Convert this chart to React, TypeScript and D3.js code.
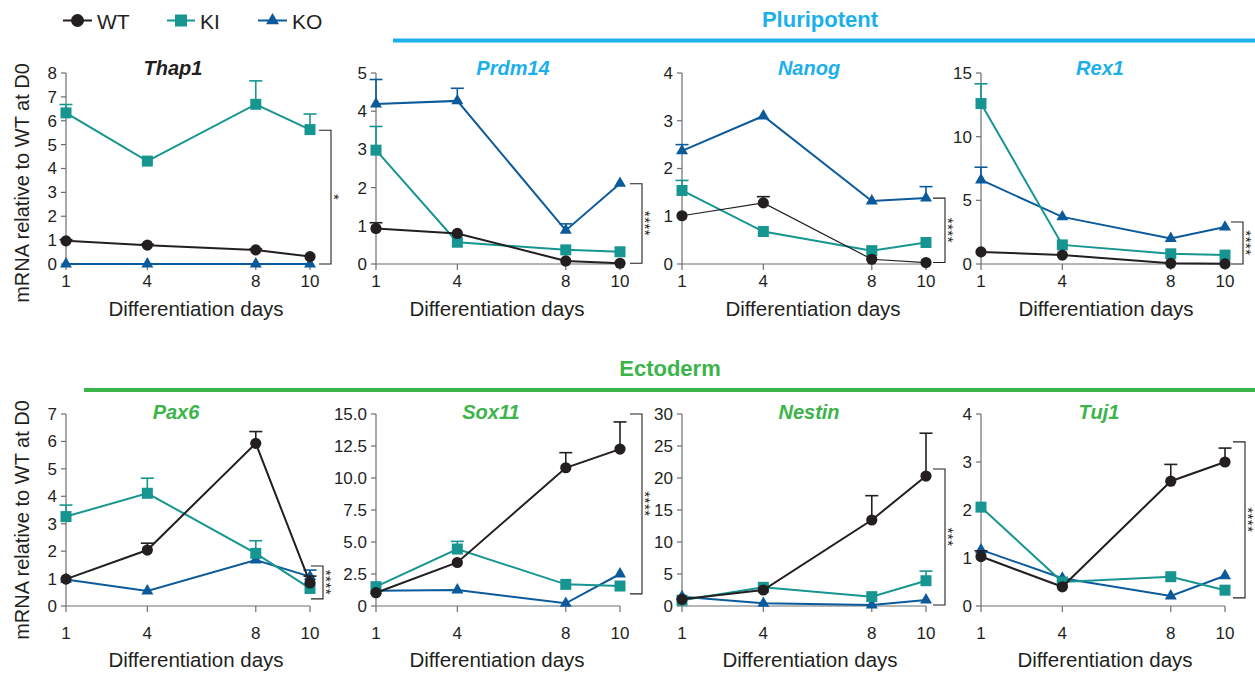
import React from "react";
import * as d3 from "d3";

// sampling days
const days = [1, 4, 8, 10];

// gene names (panel titles) and y-axis maxima
const genes = ["Thap1", "Prdm14", "Nanog", "Rex1", "Pax6", "Sox11", "Nestin", "Tuj1"];
const yMax = [8, 5, 4, 15, 7, 15, 30, 4];
const yTickStep = [1, 1, 1, 5, 1, 2.5, 5, 1];
const stars = ["*", "****", "****", "****", "****", "****", "***", "****"];

// means (relative mRNA) per gene and genotype
const thap1WT = [0.97, 0.79, 0.59, 0.31];
const thap1KI = [6.33, 4.31, 6.69, 5.63];
const thap1KO = [0, 0, 0, 0];
const prdm14WT = [0.93, 0.8, 0.08, 0.02];
const prdm14KI = [2.98, 0.57, 0.37, 0.32];
const prdm14KO = [4.19, 4.27, 0.88, 2.11];
const nanogWT = [1.01, 1.28, 0.1, 0.03];
const nanogKI = [1.54, 0.68, 0.28, 0.45];
const nanogKO = [2.37, 3.1, 1.32, 1.38];
const rex1WT = [0.95, 0.7, 0.05, 0.02];
const rex1KI = [12.6, 1.5, 0.8, 0.7];
const rex1KO = [6.6, 3.7, 2.0, 2.9];
const pax6WT = [0.98, 2.04, 5.93, 0.84];
const pax6KI = [3.26, 4.11, 1.92, 0.64];
const pax6KO = [0.97, 0.55, 1.68, 1.07];
const sox11WT = [1.04, 3.4, 10.8, 12.26];
const sox11KI = [1.51, 4.45, 1.69, 1.56];
const sox11KO = [1.2, 1.25, 0.21, 2.5];
const nestinWT = [1.04, 2.5, 13.44, 20.3];
const nestinKI = [0.9, 2.92, 1.46, 3.95];
const nestinKO = [1.46, 0.42, 0.16, 0.94];
const tuj1WT = [1.03, 0.4, 2.6, 3.0];
const tuj1KI = [2.06, 0.5, 0.61, 0.33];
const tuj1KO = [1.17, 0.58, 0.21, 0.63];

// upper error bars (SEM)
const thap1WTErr = [0.05, 0.04, 0.04, 0];
const thap1KIErr = [0.35, 0, 0.98, 0.65];
const thap1KOErr = [0, 0, 0, 0];
const prdm14WTErr = [0.15, 0, 0, 0];
const prdm14KIErr = [0.62, 0, 0, 0];
const prdm14KOErr = [0.64, 0.33, 0.17, 0];
const nanogWTErr = [0, 0.13, 0, 0];
const nanogKIErr = [0.21, 0, 0, 0];
const nanogKOErr = [0.13, 0, 0, 0.24];
const rex1WTErr = [0, 0, 0, 0];
const rex1KIErr = [1.55, 0, 0, 0];
const rex1KOErr = [1.0, 0, 0, 0];
const pax6WTErr = [0, 0.25, 0.43, 0.25];
const pax6KIErr = [0.42, 0.55, 0.46, 0];
const pax6KOErr = [0, 0, 0, 0.24];
const sox11WTErr = [0, 0, 1.18, 2.12];
const sox11KIErr = [0, 0.6, 0, 0];
const sox11KOErr = [0, 0, 0, 0];
const nestinWTErr = [0, 0, 3.8, 6.7];
const nestinKIErr = [0, 0, 0, 1.5];
const nestinKOErr = [0, 0, 0, 0];
const tuj1WTErr = [0.12, 0, 0.35, 0.29];
const tuj1KIErr = [0, 0, 0, 0];
const tuj1KOErr = [0, 0, 0, 0];

// significance brackets [low, high] in data units
const brackets = [
  [0, 5.6],
  [0.02, 2.1],
  [0.03, 1.38],
  [0, 3.3],
  [0.26, 1.46],
  [0.95, 15],
  [0.16, 21.4],
  [0.17, 3.42],
];

const means = [
  [thap1WT, thap1KI, thap1KO],
  [prdm14WT, prdm14KI, prdm14KO],
  [nanogWT, nanogKI, nanogKO],
  [rex1WT, rex1KI, rex1KO],
  [pax6WT, pax6KI, pax6KO],
  [sox11WT, sox11KI, sox11KO],
  [nestinWT, nestinKI, nestinKO],
  [tuj1WT, tuj1KI, tuj1KO],
];
const errs = [
  [thap1WTErr, thap1KIErr, thap1KOErr],
  [prdm14WTErr, prdm14KIErr, prdm14KOErr],
  [nanogWTErr, nanogKIErr, nanogKOErr],
  [rex1WTErr, rex1KIErr, rex1KOErr],
  [pax6WTErr, pax6KIErr, pax6KOErr],
  [sox11WTErr, sox11KIErr, sox11KOErr],
  [nestinWTErr, nestinKIErr, nestinKOErr],
  [tuj1WTErr, tuj1KIErr, tuj1KOErr],
];

const genotypes = ["WT", "KI", "KO"];
const colors = { WT: "#231f20", KI: "#179590", KO: "#0b5a9b" };
const BLUE = "#1bb0ea";
const GREEN = "#3bb44a";
const AXIS = "#6d6e71";
const TEXT = "#231f20";
const FONT = "'Liberation Sans', Arial, Helvetica, sans-serif";

// layout
const colX = [66, 376, 682, 981];
const rows = [
  { top: 73, bottom: 264, titleY: 75, tickY: 287, labY: 316, yLabC: 183 },
  { top: 414, bottom: 606, titleY: 419, tickY: 639, labY: 667, yLabC: 520 },
];
const plotW = 244;
const titleDx = [107, 137, 127, 119, 110, 115, 127, 118];
const xLabDx = [130, 121, 131, 125, 130, 121, 128, 124];
const brDx = [265, 266, 263, 262, 257, 266, 263, 264];
const titleColor = [TEXT, BLUE, BLUE, BLUE, GREEN, GREEN, GREEN, GREEN];

const Marker = ({ kind, x, y, big = false }) => {
  const c = colors[kind];
  if (kind === "WT") return <circle cx={x} cy={y} r={big ? 6.5 : 5.6} fill={c} />;
  if (kind === "KI") {
    const s = big ? 12 : 11;
    return <rect x={x - s / 2} y={y - s / 2} width={s} height={s} fill={c} />;
  }
  const s = big ? 13 : 12;
  const h = (s * Math.sqrt(3)) / 2;
  return (
    <path
      d={`M${x},${y - (2 * h) / 3}L${x + s / 2},${y + h / 3}L${x - s / 2},${y + h / 3}Z`}
      fill={c}
    />
  );
};

const Panel = ({ i }) => {
  const row = rows[Math.floor(i / 4)];
  const x0 = colX[i % 4];
  const x = d3.scaleLinear().domain([1, 10]).range([x0, x0 + plotW]);
  const y = d3.scaleLinear().domain([0, yMax[i]]).range([row.bottom, row.top]);
  const ticks = d3.range(0, yMax[i] + 1e-9, yTickStep[i]);
  const fmt = (v) => (v === 0 ? "0" : yTickStep[i] % 1 ? v.toFixed(1) : String(v));
  const line = d3
    .line()
    .x((d) => x(d[0]))
    .y((d) => y(d[1]));
  const order = [2, 1, 0]; // KO, KI, WT on top
  const bx = x0 + brDx[i];
  const [blo, bhi] = brackets[i];
  const bmid = (y(blo) + y(bhi)) / 2;

  return (
    <g fontFamily={FONT}>
      <text
        x={x0 + titleDx[i]}
        y={row.titleY}
        textAnchor="middle"
        fontSize={20}
        fontWeight="bold"
        fontStyle="italic"
        fill={titleColor[i]}
      >
        {genes[i]}
      </text>
      {/* axes */}
      <line x1={x0} x2={x0} y1={y(yMax[i])} y2={y(0)} stroke={AXIS} strokeWidth={1.2} />
      <line x1={x0} x2={x(10)} y1={y(0)} y2={y(0)} stroke={AXIS} strokeWidth={1.2} />
      {ticks.map((t) => (
        <g key={t}>
          <line x1={x0 - 5} x2={x0} y1={y(t)} y2={y(t)} stroke={AXIS} strokeWidth={1.2} />
          <text
            x={x0 - 9}
            y={y(t)}
            dy="0.35em"
            textAnchor="end"
            fontSize={17}
            fill={TEXT}
          >
            {fmt(t)}
          </text>
        </g>
      ))}
      {days.map((d) => (
        <g key={d}>
          <line x1={x(d)} x2={x(d)} y1={y(0)} y2={y(0) + 6} stroke={AXIS} strokeWidth={1.2} />
          <text x={x(d)} y={row.tickY} textAnchor="middle" fontSize={17} fill={TEXT}>
            {d}
          </text>
        </g>
      ))}
      <text x={x0 + xLabDx[i]} y={row.labY} textAnchor="middle" fontSize={20.5} fill={TEXT}>
        Differentiation days
      </text>
      {/* series */}
      {order.map((k) => {
        const g = genotypes[k];
        const vals = means[i][k];
        const e = errs[i][k];
        const c = colors[g];
        const thin = i === 2 && g === "WT";
        return (
          <g key={g}>
            <path
              d={line(days.map((d, j) => [d, vals[j]]))}
              fill="none"
              stroke={c}
              strokeWidth={thin ? 1.2 : 2}
            />
            {days.map((d, j) =>
              e[j] > 0 ? (
                <g key={d} stroke={c} strokeWidth={1.6}>
                  <line x1={x(d)} x2={x(d)} y1={y(vals[j])} y2={y(vals[j] + e[j])} />
                  <line
                    x1={x(d) - 6.5}
                    x2={x(d) + 6.5}
                    y1={y(vals[j] + e[j])}
                    y2={y(vals[j] + e[j])}
                  />
                </g>
              ) : null
            )}
            {days.map((d, j) => (
              <Marker key={d} kind={g} x={x(d)} y={y(vals[j])} />
            ))}
          </g>
        );
      })}
      {/* significance bracket */}
      <path
        d={`M${bx - 12},${y(bhi)}H${bx}V${y(blo)}H${bx - 12}`}
        fill="none"
        stroke={TEXT}
        strokeWidth={1.1}
      />
      <text
        transform={`translate(${bx - 2.5},${bmid}) rotate(90)`}
        textAnchor="middle"
        fontSize={15}
        letterSpacing={0.5}
        fill={TEXT}
      >
        {stars[i]}
      </text>
    </g>
  );
};

export default function App() {
  const legendItems = [
    { g: "WT", x1: 63, x2: 92, tx: 97 },
    { g: "KI", x1: 167, x2: 195, tx: 200 },
    { g: "KO", x1: 258, x2: 287, tx: 292 },
  ];
  return (
    <svg
      width={1255}
      height={675}
      style={{ position: "absolute", left: 0, top: 0, background: "#fff" }}
      fontFamily={FONT}
    >
      {/* legend */}
      {legendItems.map((it) => (
        <g key={it.g}>
          <line x1={it.x1} x2={it.x2} y1={20.5} y2={20.5} stroke={colors[it.g]} strokeWidth={2} />
          <Marker kind={it.g} x={(it.x1 + it.x2) / 2} y={20.5} big />
          <text x={it.tx} y={28.5} fontSize={21} fill={TEXT}>
            {it.g}
          </text>
        </g>
      ))}
      {/* group headers */}
      <text x={820} y={27} textAnchor="middle" fontSize={22} fontWeight="bold" fill={BLUE}>
        Pluripotent
      </text>
      <rect x={393} y={38.5} width={862} height={4} fill={BLUE} />
      <text x={670} y={376} textAnchor="middle" fontSize={22} fontWeight="bold" fill={GREEN}>
        Ectoderm
      </text>
      <rect x={84} y={388} width={1171} height={4} fill={GREEN} />
      {/* y-axis titles */}
      {rows.map((r, k) => (
        <text
          key={k}
          transform={`translate(29,${r.yLabC}) rotate(-90)`}
          textAnchor="middle"
          fontSize={20}
          fill={TEXT}
        >
          mRNA relative to WT at D0
        </text>
      ))}
      {genes.map((_, i) => (
        <Panel key={i} i={i} />
      ))}
    </svg>
  );
}
